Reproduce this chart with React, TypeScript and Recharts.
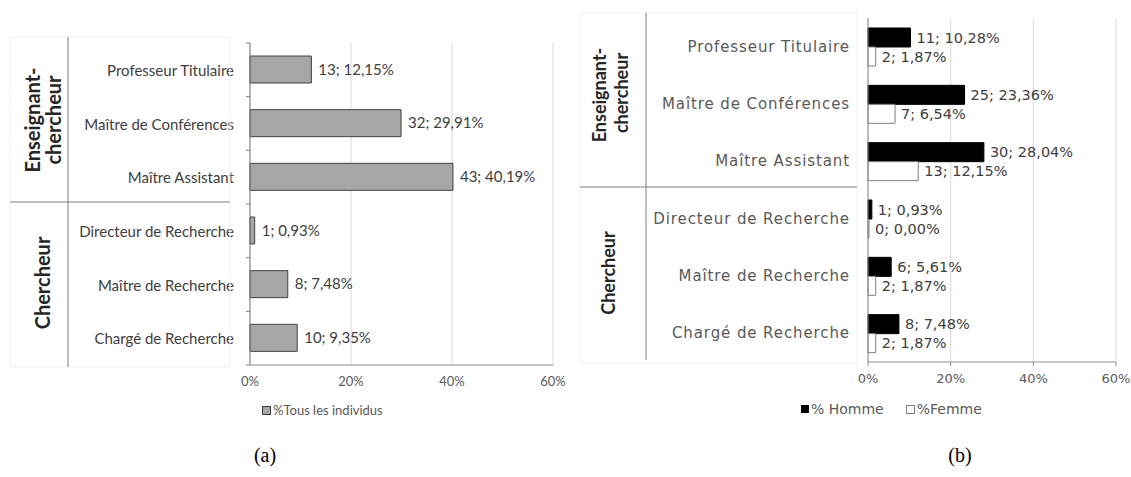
import React from "react"
import {
    BarChart,
    Bar,
    XAxis,
    YAxis,
    CartesianGrid,
    LabelList,
} from "recharts"

// categories, top to bottom
const categories = [
    'Professeur Titulaire',
    'Maître de Conférences',
    'Maître Assistant',
    'Directeur de Recherche',
    'Maître de Recherche',
    'Chargé de Recherche',
]

// (a) all individuals
const totalCounts = [13, 32, 43, 1, 8, 10]
const totalPct = [12.15, 29.91, 40.19, 0.93, 7.48, 9.35]

// (b) by gender
const hommeCounts = [11, 25, 30, 1, 6, 8]
const hommePct = [10.28, 23.36, 28.04, 0.93, 5.61, 7.48]
const femmeCounts = [2, 7, 13, 0, 2, 2]
const femmePct = [1.87, 6.54, 12.15, 0.0, 1.87, 1.87]

const xTicks = [0, 20, 40, 60]

const fmt = (n: number, p: number) => `${n}; ${p.toFixed(2).replace('.', ',')}%`

const dataA = categories.map((name, i) => ({
    name,
    total: totalPct[i],
    label: fmt(totalCounts[i], totalPct[i]),
}))

const dataB = categories.map((name, i) => ({
    name,
    homme: hommePct[i],
    femme: femmePct[i],
    labelH: fmt(hommeCounts[i], hommePct[i]),
    labelF: fmt(femmeCounts[i], femmePct[i]),
}))

const FONT_A = 'Lato, "Open Sans", sans-serif'
const FONT_B = '"DejaVu Sans", Verdana, sans-serif'

// plot height of chart (a), used for the boundary ticks
const BAND_A = 322 / categories.length

// category tick of chart (a): label + Excel-like ticks on band boundaries
function TickA(props: any) {
    const { x, y, payload, index } = props
    const axisX = x + 16
    return (
        <g>
            <text x={x} y={y} textAnchor="end" dominantBaseline="central" fill="#404040" fontSize={15} fontFamily={FONT_A}>
                {payload.value}
            </text>
            <line x1={axisX - 4} x2={axisX} y1={y - BAND_A / 2} y2={y - BAND_A / 2} stroke="#7f7f7f" />
            {index === categories.length - 1 && (
                <line x1={axisX - 4} x2={axisX} y1={y + BAND_A / 2} y2={y + BAND_A / 2} stroke="#7f7f7f" />
            )}
        </g>
    )
}

function TickB(props: any) {
    const { x, y, payload } = props
    return (
        <text x={x} y={y} textAnchor="end" dominantBaseline="central" fill="#595959" fontSize={15} letterSpacing={0.9} fontFamily={FONT_B}>
            {payload.value}
        </text>
    )
}

function ChartA() {
    return (
        <BarChart width={600} height={440} data={dataA} layout="vertical" margin={{ top: 43, right: 47, bottom: 45, left: 0 }}>
            <CartesianGrid horizontal={false} stroke="#d9d9d9" />
            <XAxis
                type="number"
                domain={[0, 60]}
                ticks={xTicks}
                tickFormatter={(v) => `${v}%`}
                tickLine={false}
                tickSize={4}
                tickMargin={8}
                height={30}
                axisLine={{ stroke: '#8c8c8c' }}
                tick={{ fill: '#595959', fontSize: 13, fontFamily: FONT_A }}
            />
            <YAxis
                type="category"
                dataKey="name"
                width={250}
                tickLine={false}
                tickSize={4}
                tickMargin={12}
                axisLine={{ stroke: '#7f7f7f' }}
                tick={<TickA />}
                interval={0}
            />
            <Bar dataKey="total" fill="#a6a6a6" stroke="#404040" strokeWidth={1} barSize={27} isAnimationActive={false}>
                <LabelList dataKey="label" position="right" offset={7} fill="#404040" fontSize={15} fontFamily={FONT_A} />
            </Bar>
        </BarChart>
    )
}

function ChartB() {
    return (
        <BarChart width={566} height={440} data={dataB} layout="vertical" barGap={0} margin={{ top: 18, right: 15, bottom: 48, left: 0 }}>
            <CartesianGrid horizontal={false} stroke="#d9d9d9" />
            <XAxis
                type="number"
                domain={[0, 60]}
                ticks={xTicks}
                tickFormatter={(v) => `${v}%`}
                tickSize={4}
                tickMargin={8}
                height={30}
                axisLine={{ stroke: '#8c8c8c' }}
                tickLine={{ stroke: '#8c8c8c' }}
                tick={{ fill: '#595959', fontSize: 13, fontFamily: FONT_B }}
            />
            <YAxis
                type="category"
                dataKey="name"
                width={303}
                tickLine={false}
                tickSize={0}
                tickMargin={18}
                axisLine={{ stroke: '#8c8c8c' }}
                tick={<TickB />}
                interval={0}
            />
            <Bar dataKey="homme" fill="#000000" stroke="#000000" barSize={19} isAnimationActive={false}>
                <LabelList dataKey="labelH" position="right" offset={6} fill="#404040" fontSize={14.5} fontFamily={FONT_B} />
            </Bar>
            <Bar dataKey="femme" fill="#ffffff" stroke="#7f7f7f" barSize={19} minPointSize={1} isAnimationActive={false}>
                <LabelList dataKey="labelF" position="right" offset={6} fill="#404040" fontSize={14.5} fontFamily={FONT_B} />
            </Bar>
        </BarChart>
    )
}

export default function App() {
    return (
        <div style={{ position: 'absolute', left: 0, top: 0, width: 1131, height: 477, background: '#fff', overflow: 'hidden' }}>
            <div style={{ position: 'absolute', left: 0, top: 0 }}>
                <ChartA />
            </div>
            <div style={{ position: 'absolute', left: 565, top: 0 }}>
                <ChartB />
            </div>

            {/* group labels and dividers */}
            <svg width={1131} height={477} style={{ position: 'absolute', left: 0, top: 0, pointerEvents: 'none' }}>
                <rect x={10} y={37} width={220} height={330} fill="none" stroke="#f0f0f0" />
                <line x1={68} x2={68} y1={37} y2={367} stroke="#7f7f7f" />
                <line x1={10} x2={230} y1={202} y2={202} stroke="#7f7f7f" />
                <g fontFamily={FONT_A} fontWeight={700} fontSize={20} fill="#262626" textAnchor="middle" dominantBaseline="central">
                    <text x={32} y={120} transform="rotate(-90 32 120)">Enseignant-</text>
                    <text x={53} y={120} transform="rotate(-90 53 120)">chercheur</text>
                    <text x={42} y={283} transform="rotate(-90 42 283)">Chercheur</text>
                </g>

                <rect x={580} y={13} width={277} height={350} fill="none" stroke="#f0f0f0" />
                <line x1={646} x2={646} y1={13} y2={360} stroke="#7f7f7f" />
                <line x1={580} x2={857} y1={187} y2={187} stroke="#7f7f7f" />
                <g fontFamily={FONT_A} fontWeight={700} fontSize={18} fill="#262626" textAnchor="middle" dominantBaseline="central">
                    <text x={599} y={95} transform="rotate(-90 599 95)">Enseignant-</text>
                    <text x={621} y={93} transform="rotate(-90 621 93)">chercheur</text>
                    <text x={608} y={273} transform="rotate(-90 608 273)">Chercheur</text>
                </g>
            </svg>

            {/* legends */}
            <div style={{ position: 'absolute', left: 262, top: 402, display: 'flex', alignItems: 'center', fontFamily: FONT_A, fontSize: 13, color: '#595959' }}>
                <span style={{ display: 'inline-block', width: 7, height: 7, background: '#a6a6a6', border: '1px solid #404040', marginRight: 2 }} />
                %Tous les individus
            </div>
            <div style={{ position: 'absolute', left: 801, top: 401, display: 'flex', alignItems: 'center', fontFamily: FONT_B, fontSize: 14, color: '#595959' }}>
                <span style={{ display: 'inline-block', width: 8, height: 8, background: '#000', marginRight: 2 }} />
                <span>% Homme</span>
                <span style={{ display: 'inline-block', width: 7, height: 7, background: '#fff', border: '1px solid #7f7f7f', marginLeft: 22, marginRight: 2 }} />
                <span>%Femme</span>
            </div>

            {/* captions */}
            <div style={{ position: 'absolute', left: 240, top: 444, width: 50, textAlign: 'center', fontFamily: '"Liberation Serif", "Times New Roman", serif', fontSize: 20, color: '#000' }}>(a)</div>
            <div style={{ position: 'absolute', left: 935, top: 444, width: 50, textAlign: 'center', fontFamily: '"Liberation Serif", "Times New Roman", serif', fontSize: 20, color: '#000' }}>(b)</div>
        </div>
    )
}
